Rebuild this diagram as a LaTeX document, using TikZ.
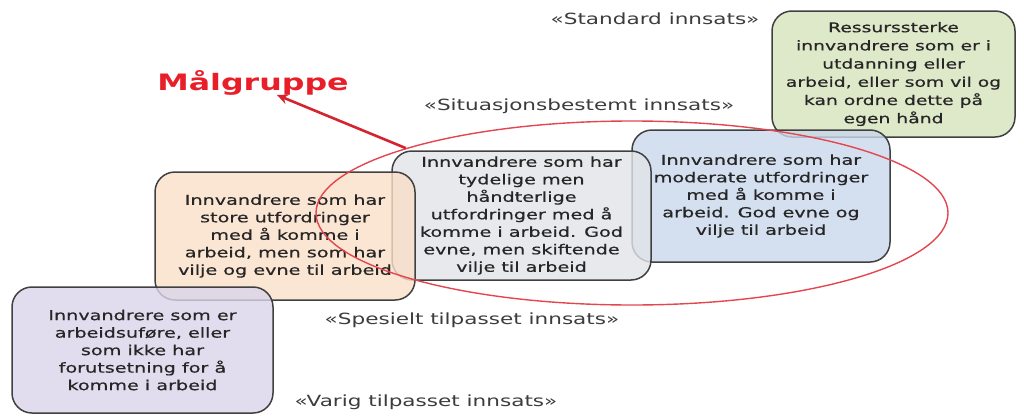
\documentclass[tikz,border=0pt]{standalone}
\usepackage{fontspec}
\setmainfont{DejaVu Sans}
\newfontfamily\bx[FakeStretch=1.4]{DejaVu Sans}
\newfontfamily\bxt[FakeStretch=1.4,FakeBold=0.6]{DejaVu Sans}
\usetikzlibrary{shapes.geometric,arrows.meta}
\definecolor{gfill}{RGB}{214,227,188}
\definecolor{bfill}{RGB}{201,216,236}
\definecolor{grfill}{RGB}{226,228,232}
\definecolor{ofill}{RGB}{250,222,200}
\definecolor{pfill}{RGB}{218,213,234}
\definecolor{boxline}{RGB}{64,64,64}
\definecolor{labgray}{RGB}{60,60,60}
\definecolor{ellred}{RGB}{228,70,80}
\definecolor{arrred}{RGB}{212,36,48}
\definecolor{malred}{RGB}{232,30,40}
\begin{document}
\begin{tikzpicture}[x=1pt,y=-1pt,
  box/.style={draw=boxline, line width=1.5pt, rounded corners=20pt, inner sep=0pt,
    align=center, fill opacity=0.8, text opacity=1, text=black!85,
    font=\bxt\fontsize{13.7}{17.5}\selectfont},
  lab/.style={inner sep=0pt, text=labgray, font=\bx\fontsize{15.4}{18}\selectfont}]
\useasboundingbox (0,0) rectangle (1024,415);

% boxes
\node[box, fill=gfill, minimum width=243pt, minimum height=126pt,
  font=\bxt\fontsize{13.4}{18.2}\selectfont] (green) at (893.5,74)
  {Ressurssterke\\innvandrere som er i\\utdanning eller\\arbeid, eller som vil og\\kan ordne dette på\\egen hånd};
\node[box, fill=bfill, minimum width=258pt, minimum height=132pt] (blue) at (761,196)
  {Innvandrere som har\\moderate utfordringer\\med å komme i\\arbeid. God evne og\\vilje til arbeid};
\node[box, fill=grfill, minimum width=259pt, minimum height=129pt] (gray) at (521.5,215.5)
  {Innvandrere som har\\tydelige men\\håndterlige\\utfordringer med å\\komme i arbeid. God\\evne, men skiftende\\vilje til arbeid};
\node[box, fill=ofill, minimum width=260pt, minimum height=128pt] (orange) at (285,236)
  {Innvandrere som har\\store utfordringer\\med å komme i\\arbeid, men som har\\vilje og evne til arbeid};
\node[box, fill=pfill, minimum width=261pt, minimum height=126pt] (purple) at (142.5,350)
  {Innvandrere som er\\arbeidsuføre, eller\\som ikke har\\forutsetning for å\\komme i arbeid};

% ellipse
\node[draw=ellred, line width=1.4pt, ellipse, minimum width=632pt, minimum height=184pt,
  inner sep=0pt] (ell) at (632,213) {};

% labels
\node[lab] (standard) at (655,19) {«Standard innsats»};
\node[lab] (situasjon) at (579,106) {«Situasjonsbestemt innsats»};
\node[lab] (spesielt) at (472,320) {«Spesielt tilpasset innsats»};
\node[lab] (varig) at (426,402) {«Varig tilpasset innsats»};

% Malgruppe
\node[inner sep=0pt, anchor=base, text=malred, font=\bx\bfseries\fontsize{22.6}{26}\selectfont]
  (malgruppe) at (253,90) {Målgruppe};
\coordinate (tip) at (277,95);
\draw[arrred, line width=2.6pt, -{Stealth[length=11pt,width=10pt]}] (ell.164) -- (tip);
\end{tikzpicture}
\end{document}
